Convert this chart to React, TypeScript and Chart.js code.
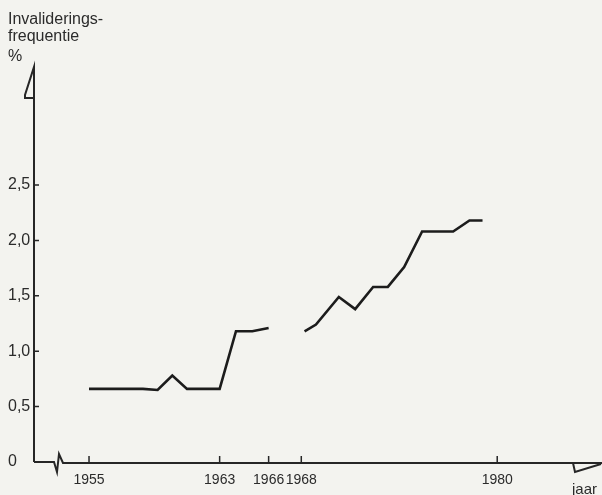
import React, { useEffect, useRef } from "react";
import { Chart, registerables } from "chart.js";

Chart.register(...registerables);

// Data
const years = [1955, 1958.3, 1959.2, 1960.1, 1961, 1963, 1964, 1965, 1966, 1967, 1968.2, 1968.9, 1970.3, 1971.3, 1972.4, 1973.3, 1974.3, 1975.4, 1977.3, 1978.3, 1979.1];
const values: (number | null)[] = [0.66, 0.66, 0.65, 0.78, 0.66, 0.66, 1.18, 1.18, 1.21, null, 1.18, 1.24, 1.49, 1.38, 1.58, 1.58, 1.76, 2.08, 2.08, 2.18, 2.18];
const xTickYears = [1955, 1963, 1966, 1968, 1980];
const yTickValues = [0, 0.5, 1, 1.5, 2, 2.5];
const titleLines = ["Invaliderings-", "frequentie", "%"];
const xAxisTitle = "jaar";

const BG = "#f3f3ef";
const INK = "#1c1c1c";
const TEXT = "#2b2b2b";
const FONT = "'Liberation Sans', Arial, sans-serif";

const decorPlugin = {
  id: "decor",
  beforeDraw(chart: any) {
    const { ctx, width, height } = chart;
    ctx.save();
    ctx.fillStyle = BG;
    ctx.fillRect(0, 0, width, height);
    ctx.restore();
  },
  afterDraw(chart: any) {
    const { ctx, chartArea } = chart;
    const xs = chart.scales.x;
    const ys = chart.scales.y;
    const L = chartArea.left;
    const B = chartArea.bottom;
    const T = chartArea.top;
    const R = chartArea.right;
    ctx.save();
    ctx.strokeStyle = "#262626";
    ctx.lineWidth = 2;
    ctx.lineJoin = "miter";
    // y axis with top pennant
    ctx.beginPath();
    ctx.moveTo(L, B);
    ctx.lineTo(L, T);
    ctx.lineTo(L - 9, T + 28);
    ctx.lineTo(L - 9, T + 31);
    ctx.lineTo(L, T + 31);
    ctx.stroke();
    // x axis with break near origin
    ctx.beginPath();
    ctx.moveTo(L, B);
    ctx.lineTo(L + 20, B);
    ctx.lineTo(L + 23, B + 10);
    ctx.lineTo(L + 25, B - 8);
    ctx.lineTo(L + 29, B + 1);
    ctx.lineTo(R + 30, B + 1);
    ctx.stroke();
    // right pennant
    ctx.beginPath();
    ctx.moveTo(R + 1, B + 1);
    ctx.lineTo(R + 3, B + 10);
    ctx.lineTo(R + 29, B + 2);
    ctx.stroke();
    // tick marks
    ctx.lineWidth = 1.5;
    ctx.beginPath();
    for (const v of yTickValues) {
      if (v === 0) continue;
      const y = ys.getPixelForValue(v);
      ctx.moveTo(L, y);
      ctx.lineTo(L + 5, y);
    }
    for (const yr of xTickYears) {
      const x = xs.getPixelForValue(yr);
      ctx.moveTo(x, B);
      ctx.lineTo(x, B - 6);
    }
    ctx.stroke();
    // titles
    ctx.fillStyle = TEXT;
    ctx.font = "16px " + FONT;
    ctx.textAlign = "left";
    ctx.textBaseline = "alphabetic";
    const baselines = [24, 41, 61];
    titleLines.forEach((t, i) => ctx.fillText(t, 8, baselines[i]));
    ctx.font = "15px " + FONT;
    ctx.fillText(xAxisTitle, R, 494);
    ctx.restore();
  },
};

export default function App() {
  const ref = useRef<HTMLCanvasElement | null>(null);
  useEffect(() => {
    if (!ref.current) return;
    const points = years.map((x, i) => ({ x, y: values[i] }));
    const chart = new Chart(ref.current, {
      type: "line",
      data: {
        datasets: [
          {
            data: points as any,
            borderColor: INK,
            borderWidth: 2.6,
            pointRadius: 0,
            tension: 0,
            spanGaps: false,
            fill: false,
          },
        ],
      },
      options: {
        responsive: false,
        animation: false,
        devicePixelRatio: 1,
        layout: { padding: { left: 8, top: 67, right: 30, bottom: 0 } },
        plugins: { legend: { display: false }, tooltip: { enabled: false } },
        scales: {
          x: {
            type: "linear",
            min: 1951.63,
            max: 1984.58,
            afterBuildTicks: (s: any) => {
              s.ticks = xTickYears.map((v) => ({ value: v }));
            },
            afterFit: (s: any) => {
              s.height = 33;
            },
            grid: { display: false, drawTicks: false },
            border: { display: false },
            ticks: {
              autoSkip: false,
              maxRotation: 0,
              padding: 10,
              color: TEXT,
              font: { family: FONT, size: 14 },
              callback: (v: any) => String(v),
            },
          },
          y: {
            min: 0,
            max: 3.565,
            afterBuildTicks: (s: any) => {
              s.ticks = yTickValues.map((v) => ({ value: v }));
            },
            afterFit: (s: any) => {
              s.width = 26;
            },
            grid: { display: false, drawTicks: false },
            border: { display: false },
            ticks: {
              crossAlign: "far",
              padding: 5,
              color: TEXT,
              font: { family: FONT, size: 16 },
              callback: (v: any) => (v === 0 ? "0" : Number(v).toFixed(1).replace(".", ",")),
            },
          },
        },
      },
      plugins: [decorPlugin],
    });
    return () => chart.destroy();
  }, []);
  return (
    <div style={{ position: "fixed", left: 0, top: 0, width: 602, height: 495, background: BG }}>
      <canvas ref={ref} width={602} height={495} style={{ display: "block" }} />
    </div>
  );
}
